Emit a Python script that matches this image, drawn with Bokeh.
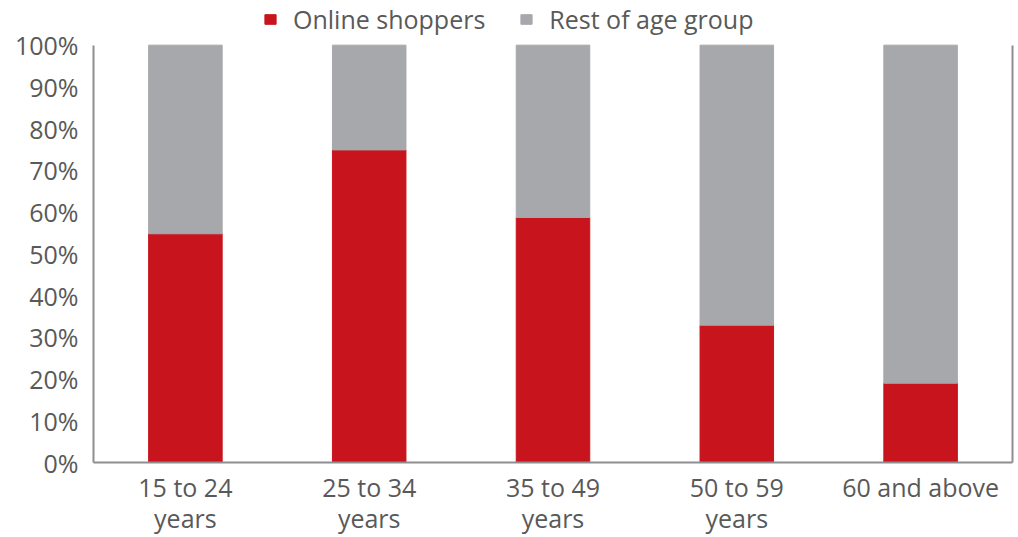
from bokeh.plotting import figure
from bokeh.models import ColumnDataSource, FactorRange, Range1d, LinearAxis, FixedTicker, CustomJSTickFormatter, Legend, LegendItem
from bokeh.embed import file_html
from bokeh.resources import INLINE

categories = ["15 to 24\nyears", "25 to 34\nyears", "35 to 49\nyears", "50 to 59\nyears", "60 and above"]
online_shoppers = [54.8, 74.9, 58.7, 32.9, 19.0]
rest_of_group = [round(100 - v, 1) for v in online_shoppers]
y_ticks = [0, 10, 20, 30, 40, 50, 60, 70, 80, 90, 100]
series_names = ["Online shoppers", "Rest of age group"]
series_colors = ["#C8141D", "#A7A8AB"]

FONT = "Open Sans"
TEXT = "#595959"
AXIS = "#8E8E90"

source = ColumnDataSource(dict(cat=categories, online=online_shoppers, rest=rest_of_group))

# frame spans the legend strip too; axis lines are bounded to 0-100
p = figure(width=1018, height=537, x_range=FactorRange(*categories, range_padding=0),
           y_range=Range1d(0, 110.7), output_backend="svg", toolbar_location=None,
           min_border_left=93, min_border_right=6, min_border_top=0, min_border_bottom=60)
p.outline_line_color = None
p.grid.grid_line_color = None
p.background_fill_color = "white"

renderers = p.vbar_stack(["online", "rest"], x="cat", width=0.4, color=series_colors, source=source)

# axes
p.yaxis.ticker = FixedTicker(ticks=y_ticks)
p.yaxis.formatter = CustomJSTickFormatter(code="return tick + '%';")
p.yaxis.bounds = (0, 100)
for ax in (p.xaxis[0], p.yaxis[0]):
    ax.axis_line_color = AXIS
    ax.axis_line_width = 2
    ax.major_tick_line_color = None
    ax.minor_tick_line_color = None
    ax.major_label_text_font = FONT
    ax.major_label_text_font_size = "25px"
    ax.major_label_text_color = TEXT
p.yaxis.major_label_standoff = 9
p.xaxis.major_label_standoff = 1
p.xaxis.major_label_text_line_height = 0.92

right = LinearAxis(ticker=FixedTicker(ticks=[]), major_label_text_font_size="0px",
                   axis_line_color=AXIS, axis_line_width=2, bounds=(0, 100),
                   major_tick_line_color=None, minor_tick_line_color=None)
right.major_label_standoff = 0
p.add_layout(right, "right")

legend = Legend(items=[LegendItem(label=n, renderers=[r]) for n, r in zip(series_names, renderers)],
                orientation="horizontal", label_text_font=FONT, label_text_font_size="25px",
                label_text_color=TEXT, glyph_width=14, glyph_height=12, label_standoff=16,
                spacing=34, padding=4, margin=0, border_line_color=None,
                background_fill_alpha=0, location=(170, 426))
p.add_layout(legend, "center")

open("out.html", "w").write(file_html(p, INLINE))
